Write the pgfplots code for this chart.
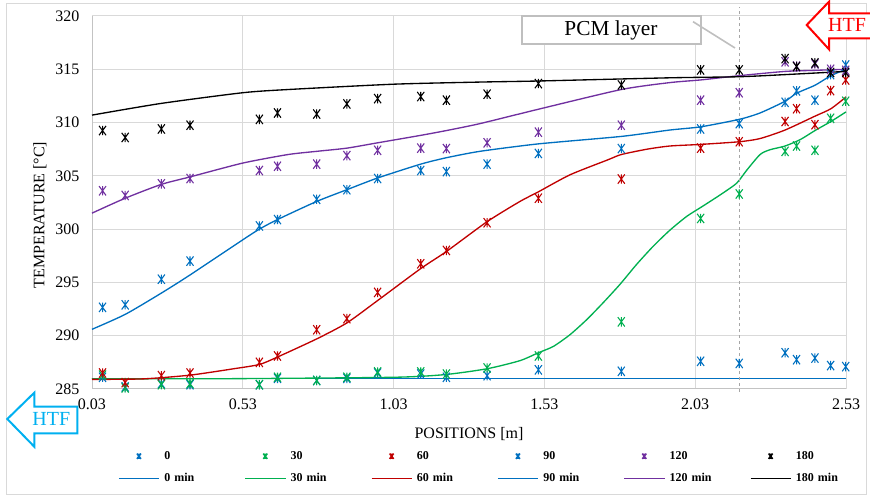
\documentclass[border=0pt]{standalone}
\usepackage{fontspec}
\setmainfont{Liberation Serif}
\usepackage{pgfplots}
\pgfplotsset{compat=1.18}
\definecolor{cb}{HTML}{0070C0}
\definecolor{cg}{HTML}{00B050}
\definecolor{cr}{HTML}{C00000}
\definecolor{cp}{HTML}{7030A0}
\definecolor{gridc}{HTML}{D9D9D9}
\definecolor{htfb}{HTML}{00B0F0}
\pgfdeclareplotmark{xstar}{%
 \pgfpathmoveto{\pgfqpoint{0pt}{\pgfplotmarksize}}\pgfpathlineto{\pgfqpoint{0pt}{-\pgfplotmarksize}}%
 \pgfpathmoveto{\pgfqpoint{-0.75\pgfplotmarksize}{\pgfplotmarksize}}\pgfpathlineto{\pgfqpoint{0.75\pgfplotmarksize}{-\pgfplotmarksize}}%
 \pgfpathmoveto{\pgfqpoint{-0.75\pgfplotmarksize}{-\pgfplotmarksize}}\pgfpathlineto{\pgfqpoint{0.75\pgfplotmarksize}{\pgfplotmarksize}}%
 \pgfusepathqstroke}
\begin{document}
\begin{tikzpicture}
\path[use as bounding box] (-69pt,-81.75pt) rectangle (583.5pt,291.75pt);
\draw[gridc, line width=0.75pt] (-63.75pt,-79.5pt) rectangle (580.5pt,288.75pt);
\begin{axis}[
  at={(0pt,0pt)}, anchor=south west,
  scale only axis, width=565.5pt, height=279.75pt,
  xmin=0.03, xmax=2.53, ymin=285, ymax=320,
  xtick={0.03,0.53,1.03,1.53,2.03,2.53},
  xticklabels={0.03,0.53,1.03,1.53,2.03,2.53},
  ytick={285,290,295,300,305,310,315,320},
  /pgf/number format/assume math mode=true,
  ticklabel style={font=\fontsize{12}{14}\selectfont},
  xticklabel style={yshift=-4pt},
  yticklabel style={xshift=-6pt},
  major tick length=0pt,
  grid=major,
  major grid style={gridc, line width=0.75pt},
  axis line style={gridc!90!black, line width=0.75pt},
  axis x line*=bottom, axis y line*=left,
  xlabel={POSITIONS [m]},
  ylabel={TEMPERATURE [°C]},
  label style={font=\fontsize{12}{14}\selectfont},
  xlabel style={at={(axis description cs:0.5,-0.1206)}, anchor=center},
  ylabel style={at={(axis description cs:-0.069,0.4665)}, anchor=center, rotate=0},
  clip=false,
  legend columns=6,
  legend cell align=left,
  legend image code/.code={\draw[mark repeat=2,mark phase=2,#1] plot coordinates {(0pt,0pt)(15pt,0pt)(30pt,0pt)};},
  legend style={at={(axis description cs:0.0345,-0.159)}, anchor=north west, draw=none, fill=none, inner sep=0pt,
    font=\bfseries\fontsize{9}{10}\selectfont, row sep=5pt,
    nodes={text width=50pt, inner xsep=3.5pt},
    /tikz/every even column/.append style={column sep=6.75pt}},
]
% markers
\addplot[only marks, mark=xstar, color=cb, mark size=3.5pt, line width=0.8pt, legend image post style={mark size=2pt, line width=1.2pt}] coordinates {
(0.065,286.1)(0.14,285.2)(0.26,285.5)(0.355,285.4)(0.585,285.4)(0.645,286.0)(0.775,285.8)(0.875,286.0)(0.977,286.5)(1.12,286.4)(1.205,286.1)(1.34,286.25)(1.51,286.8)(1.785,286.66)(2.048,287.6)(2.176,287.4)(2.328,288.4)(2.366,287.75)(2.427,287.9)(2.479,287.2)(2.529,287.1)};
\addlegendentry{0}
\addplot[only marks, mark=xstar, color=cg, mark size=3.5pt, line width=0.8pt, legend image post style={mark size=2pt, line width=1.2pt}] coordinates {
(0.065,286.3)(0.14,285.1)(0.26,285.4)(0.355,285.5)(0.585,285.4)(0.645,286.1)(0.775,285.8)(0.875,286.1)(0.977,286.6)(1.12,286.6)(1.205,286.4)(1.34,286.97)(1.51,288.1)(1.785,291.3)(2.048,301.0)(2.176,303.3)(2.328,307.3)(2.366,307.8)(2.427,307.4)(2.479,310.4)(2.529,312.0)};
\addlegendentry{30}
\addplot[only marks, mark=xstar, color=cr, mark size=3.5pt, line width=0.8pt, legend image post style={mark size=2pt, line width=1.2pt}] coordinates {
(0.065,286.5)(0.14,285.6)(0.26,286.25)(0.355,286.5)(0.585,287.5)(0.645,288.1)(0.775,290.56)(0.875,291.6)(0.977,294.06)(1.12,296.75)(1.205,298.0)(1.34,300.6)(1.51,302.9)(1.785,304.7)(2.048,307.6)(2.176,308.2)(2.328,310.1)(2.366,311.3)(2.427,309.8)(2.479,313.0)(2.529,314.0)};
\addlegendentry{60}
\addplot[only marks, mark=xstar, color=cb, mark size=3.5pt, line width=0.8pt, legend image post style={mark size=2pt, line width=1.2pt}] coordinates {
(0.065,292.66)(0.14,292.9)(0.26,295.3)(0.355,297.0)(0.585,300.3)(0.645,300.9)(0.775,302.8)(0.875,303.7)(0.977,304.75)(1.12,305.5)(1.205,305.4)(1.34,306.1)(1.51,307.1)(1.785,307.56)(2.048,309.4)(2.176,309.9)(2.328,311.9)(2.366,312.97)(2.427,312.1)(2.479,314.5)(2.529,315.4)};
\addlegendentry{90}
\addplot[only marks, mark=xstar, color=cp, mark size=3.5pt, line width=0.8pt, legend image post style={mark size=2pt, line width=1.2pt}] coordinates {
(0.065,303.6)(0.14,303.16)(0.26,304.25)(0.355,304.75)(0.585,305.5)(0.645,305.9)(0.775,306.1)(0.875,306.9)(0.977,307.4)(1.12,307.6)(1.205,307.56)(1.34,308.1)(1.51,309.1)(1.785,309.75)(2.048,312.1)(2.176,312.8)(2.328,315.7)(2.366,315.3)(2.427,315.5)(2.479,315.0)(2.529,314.9)};
\addlegendentry{120}
\addplot[only marks, mark=xstar, color=black, mark size=3.5pt, line width=0.8pt, legend image post style={mark size=2pt, line width=1.2pt}] coordinates {
(0.065,309.25)(0.14,308.6)(0.26,309.4)(0.355,309.75)(0.585,310.3)(0.645,310.9)(0.775,310.8)(0.875,311.75)(0.977,312.25)(1.12,312.44)(1.205,312.1)(1.34,312.66)(1.51,313.66)(1.785,313.53)(2.048,314.94)(2.176,314.94)(2.328,316.0)(2.366,315.25)(2.427,315.6)(2.479,314.7)(2.529,314.7)};
\addlegendentry{180}
% lines
\addplot[no marks, color=cb, line width=1pt] coordinates {(0.03,286.0)(2.53,286.0)};
\addlegendentry{0 min}
\addplot[no marks, smooth, tension=0.4, color=cg, line width=1pt] coordinates {
(0.03,285.95)(0.5,285.97)(1.03,286.1)(1.2,286.35)(1.34,286.9)(1.449,287.66)(1.51,288.4)(1.56,289.0)(1.615,290.1)(1.67,291.5)(1.725,293.1)(1.78,294.8)(1.836,296.7)(1.891,298.4)(1.946,299.9)(2.002,301.2)(2.052,302.1)(2.112,303.2)(2.167,304.3)(2.2,305.5)(2.245,307.0)(2.278,307.45)(2.328,307.8)(2.378,308.4)(2.43,309.3)(2.48,310.1)(2.53,311.0)};
\addlegendentry{30 min}
\addplot[no marks, smooth, tension=0.4, color=cr, line width=1pt] coordinates {
(0.03,285.9)(0.2,285.95)(0.355,286.3)(0.5,286.9)(0.585,287.3)(0.645,288.0)(0.775,289.7)(0.875,291.2)(0.977,293.3)(1.12,296.3)(1.205,297.9)(1.34,300.7)(1.449,302.6)(1.51,303.5)(1.615,305.1)(1.74,306.5)(1.785,307.0)(1.87,307.5)(1.946,307.8)(2.048,307.95)(2.176,308.2)(2.245,308.5)(2.328,309.3)(2.427,310.6)(2.48,311.3)(2.53,312.4)};
\addlegendentry{60 min}
\addplot[no marks, smooth, tension=0.4, color=cb, line width=1pt] coordinates {
(0.03,290.6)(0.14,292.0)(0.26,294.0)(0.355,295.7)(0.53,299.0)(0.585,300.0)(0.645,300.9)(0.775,302.6)(0.875,303.7)(0.977,304.8)(1.12,306.1)(1.205,306.7)(1.316,307.3)(1.51,308.0)(1.785,308.7)(1.946,309.3)(2.048,309.6)(2.176,310.3)(2.245,310.9)(2.328,312.0)(2.366,312.75)(2.427,313.5)(2.48,314.4)(2.53,315.0)};
\addlegendentry{90 min}
\addplot[no marks, smooth, tension=0.4, color=cp, line width=1pt] coordinates {
(0.03,301.5)(0.14,302.9)(0.26,304.2)(0.355,304.9)(0.53,306.2)(0.68,307.0)(0.775,307.3)(0.875,307.6)(0.977,308.1)(1.12,308.8)(1.205,309.25)(1.316,309.9)(1.51,311.25)(1.785,313.1)(1.946,313.75)(2.048,314.0)(2.176,314.4)(2.328,314.8)(2.427,314.9)(2.53,315.0)};
\addlegendentry{120 min}
\addplot[no marks, smooth, tension=0.4, color=black, line width=1pt] coordinates {
(0.03,310.7)(0.26,311.8)(0.53,312.8)(0.68,313.1)(1.03,313.6)(1.316,313.8)(1.51,313.9)(1.946,314.2)(2.176,314.3)(2.328,314.5)(2.53,314.8)};
\addlegendentry{180 min}
\draw[gray!70, line width=0.6pt, dash pattern=on 2.5pt off 2pt] (axis cs:2.176,284.7) -- (axis cs:2.176,320.8);
\end{axis}
% PCM layer box
\draw[gray!50, line width=1.5pt, fill=white] (322.5pt,258.75pt) rectangle (456.5pt,279.75pt);
\node[font=\fontsize{16}{18}\selectfont] at (389.25pt,269.25pt) {PCM layer};
\draw[gray!50, line width=1.2pt] (450.75pt,275.5pt) -- (482.25pt,255.75pt);
% HTF arrows
\draw[red, line width=1.5pt, fill=white] (590pt,281.775pt) -- (552.75pt,281.775pt) -- (552.75pt,290.475pt) -- (536.025pt,273pt) -- (552.75pt,254.775pt) -- (552.75pt,263.025pt) -- (590pt,263.025pt);
\node[red, font=\fontsize{15}{17}\selectfont] at (566.25pt,273pt) {HTF};
\draw[htfb, line width=1.5pt, fill=white] (-63.525pt,-22.5pt) -- (-43.275pt,-2.775pt) -- (-43.275pt,-13.275pt) -- (-11.025pt,-13.275pt) -- (-11.025pt,-33.225pt) -- (-43.275pt,-33.225pt) -- (-43.275pt,-43.275pt) -- cycle;
\node[htfb, font=\fontsize{15}{17}\selectfont] at (-30.5pt,-22.5pt) {HTF};
\end{tikzpicture}
\end{document}
